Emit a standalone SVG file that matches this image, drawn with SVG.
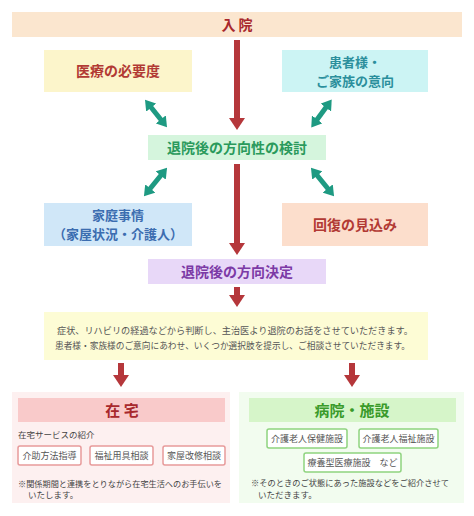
<svg xmlns="http://www.w3.org/2000/svg" width="474" height="516" viewBox="0 0 474 516">
<style>
text{font-family:"Noto Sans CJK JP","Noto Sans",sans-serif}
.t{font-weight:bold;font-size:14px;text-anchor:middle}
.t2{font-weight:bold;font-size:13px;text-anchor:middle}
.s{font-size:9px;fill:#555}
.n{font-size:8.5px;fill:#444}
.b{font-size:9px;fill:#555;text-anchor:middle}
.pb{fill:#fff;stroke:#e79a9a;stroke-width:1.5}
.gb{fill:#fff;stroke:#8fd37f;stroke-width:1.5}
.red{stroke:#b5373b;stroke-width:6;fill:none}
.tea{stroke:#1e9a82;stroke-width:5;fill:none}
</style>
<defs>
<marker id="rh" markerUnits="userSpaceOnUse" viewBox="0 0 12 16" refX="0" refY="8" markerWidth="12" markerHeight="16" orient="auto"><path d="M0,0L12,8L0,16Z" fill="#b5373b"/></marker>
<marker id="th" markerUnits="userSpaceOnUse" viewBox="0 0 10 13" refX="2" refY="6.5" markerWidth="10" markerHeight="13" orient="auto-start-reverse"><path d="M0,0L10,6.5L0,13Z" fill="#1e9a82"/></marker>
</defs>
<rect width="474" height="516" fill="#fff"/>
<g id="connectors">
<line class="red" x1="237" y1="40" x2="237" y2="118" marker-end="url(#rh)"/>
<line class="red" x1="237" y1="164" x2="237" y2="243" marker-end="url(#rh)"/>
<line class="red" x1="237" y1="287" x2="237" y2="295" marker-end="url(#rh)"/>
<line class="red" x1="121" y1="363" x2="121" y2="375" marker-end="url(#rh)"/>
<line class="red" x1="352" y1="363" x2="352" y2="375" marker-end="url(#rh)"/>
<line class="tea" x1="150" y1="106" x2="162" y2="121" marker-start="url(#th)" marker-end="url(#th)"/>
<line class="tea" x1="327" y1="106" x2="316" y2="121" marker-start="url(#th)" marker-end="url(#th)"/>
<line class="tea" x1="162" y1="174" x2="149" y2="190" marker-start="url(#th)" marker-end="url(#th)"/>
<line class="tea" x1="316" y1="174" x2="329" y2="190" marker-start="url(#th)" marker-end="url(#th)"/>
</g>
<g id="n-admit">
<rect x="12" y="12" width="450" height="25" fill="#fbe6cf"/>
<text class="t" x="237" y="30" fill="#a8282c">入 院</text>
</g>
<g id="n-medical">
<rect x="44" y="50" width="148" height="42" fill="#fcf5cb"/>
<text class="t" x="118" y="76" fill="#b23a34">医療の必要度</text>
</g>
<g id="n-wish">
<rect x="282" y="50" width="146" height="42" fill="#ccf4f4"/>
<text class="t2" x="355" y="67" fill="#2b8f9c">患者様・</text>
<text class="t2" x="355" y="86" fill="#2b8f9c">ご家族の意向</text>
</g>
<g id="n-consider">
<rect x="148" y="135" width="178" height="25" fill="#d5f5dd"/>
<text class="t" x="237" y="153" fill="#2a9a5c">退院後の方向性の検討</text>
</g>
<g id="n-family">
<rect x="44" y="203" width="148" height="43" fill="#d0e7f8"/>
<text class="t2" x="118" y="220" fill="#3c6db0">家庭事情</text>
<text class="t2" x="118" y="239" fill="#3c6db0">（家屋状況・介護人）</text>
</g>
<g id="n-recovery">
<rect x="282" y="203" width="146" height="43" fill="#fcdecc"/>
<text class="t" x="355" y="230" fill="#b23a34">回復の見込み</text>
</g>
<g id="n-decide">
<rect x="148" y="259" width="178" height="25" fill="#e8d8f8"/>
<text class="t" x="237" y="277" fill="#7c3aa6">退院後の方向決定</text>
</g>
<g id="n-explain">
<rect x="44" y="312" width="384" height="48" fill="#fdfcd5"/>
<text class="s" x="57" y="334" textLength="356" lengthAdjust="spacingAndGlyphs">症状、リハビリの経過などから判断し、主治医より退院のお話をさせていただきます。</text>
<text class="s" x="55" y="349" textLength="355" lengthAdjust="spacingAndGlyphs">患者様・家族様のご意向にあわせ、いくつか選択肢を提示し、ご相談させていただきます。</text>
</g>
<g id="n-home">
<rect x="12" y="392" width="218" height="111" fill="#fdf0f0"/>
<rect x="18" y="398" width="207" height="24" fill="#f9caca"/>
<text class="t" x="122" y="416" fill="#a8282c" style="font-size:15px">在 宅</text>
<text class="n" x="18" y="438">在宅サービスの紹介</text>
<rect class="pb" x="18" y="446" width="63" height="19" rx="2"/>
<text class="b" x="49.5" y="459">介助方法指導</text>
<rect class="pb" x="90" y="446" width="63" height="19" rx="2"/>
<text class="b" x="121.5" y="459">福祉用具相談</text>
<rect class="pb" x="163" y="446" width="62" height="19" rx="2"/>
<text class="b" x="194" y="459">家屋改修相談</text>
<text class="n" x="18" y="487" textLength="204" lengthAdjust="spacingAndGlyphs">※関係期間と連携をとりながら在宅生活へのお手伝いを</text>
<text class="n" x="28" y="498">いたします。</text>
</g>
<g id="n-facility">
<rect x="239" y="392" width="225" height="111" fill="#f2fcef"/>
<rect x="249" y="398" width="207" height="24" fill="#d6f5c9"/>
<text class="t" x="352" y="416" fill="#3a9a2a" style="font-size:15px">病院・施設</text>
<rect class="gb" x="267" y="429" width="80" height="19" rx="2"/>
<text class="b" x="307" y="442">介護老人保健施設</text>
<rect class="gb" x="359" y="429" width="79" height="19" rx="2"/>
<text class="b" x="398.5" y="442">介護老人福祉施設</text>
<rect class="gb" x="304" y="453" width="97" height="19" rx="2"/>
<text class="b" x="352.5" y="466">療養型医療施設　など</text>
<text class="n" x="251" y="486" textLength="198" lengthAdjust="spacingAndGlyphs">※そのときのご状態にあった施設などをご紹介させて</text>
<text class="n" x="258" y="498">いただきます。</text>
</g>
</svg>
